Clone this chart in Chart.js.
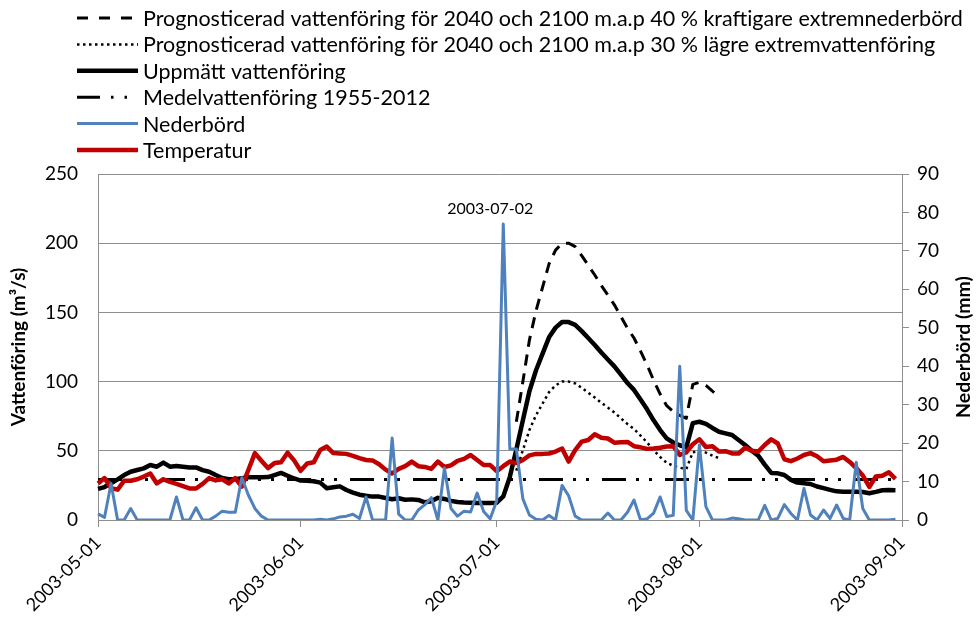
<!DOCTYPE html>
<html>
<head>
<meta charset="utf-8">
<script src="https://cdn.jsdelivr.net/npm/chart.js@4.4.0/dist/chart.umd.min.js"></script>
<style>
  html, body { margin: 0; padding: 0; background: #fff; }
  #wrap { position: relative; width: 978px; height: 628px; }
</style>
</head>
<body>
<div id="wrap"><canvas id="chartFlow"></canvas></div>
<script>
// x axis runs 2003-05-01 .. 2003-09-01, one category per day
const TICK_DATES = ['2003-05-01', '2003-06-01', '2003-07-01', '2003-08-01', '2003-09-01'];
const PROG_START = '2003-07-04';
const PEAK_LABEL = '2003-07-02';

const NEDERBORD = [
    1.6, 0.7, 9.5, 0, 0, 3, 0, 0, 0, 0,
    0, 0, 6, 0, 0, 3.2, 0, 0, 1, 2.3,
    2, 2, 11, 6.5, 3, 1, 0, 0, 0, 0,
    0, 0, 0, 0, 0.2, 0, 0.3, 0.8, 1, 1.5,
    0.4, 6, 0, 0, 0, 21.3, 1.5, 0, 0, 2.6,
    4, 5.8, 0, 13.5, 3, 1, 2.3, 2.1, 7, 2.2,
    0.3, 5, 77, 18.5, 18.5, 5.5, 1.3, 0.2, 0, 1.2,
    0, 9, 6.3, 1, 0, 0, 0, 0, 1.8, 0,
    0, 2, 5.2, 0, 0.3, 1.8, 6, 0.9, 1.2, 40,
    2.5, 0, 19.5, 3.5, 0, 0, 0, 0.5, 0.3, 0,
    0, 0, 3.8, 0, 0.4, 4, 1.7, 0, 8.2, 1.3,
    0, 2.6, 0.4, 3.9, 0.4, 0, 15, 3, 0, 0,
    0, 0, 0.2
];

const TEMPERATUR = [
    9.5, 10.9, 8.3, 7.9, 10.2, 10.2, 10.6, 11.3, 12.1, 9.5,
    10.6, 9.9, 9.4, 8.8, 8.2, 8.2, 9.4, 10.9, 10.3, 10.6,
    9.5, 10.9, 8.7, 13, 17.4, 15.4, 13.5, 14.8, 15, 17.5,
    15.5, 12.8, 14.7, 15, 18.2, 19.1, 17.4, 17.3, 17.2, 16.7,
    16.1, 15.6, 15.5, 14.5, 13.1, 12.1, 13.3, 14, 15.2, 14,
    13.8, 13.3, 15.2, 13.8, 14.2, 15.4, 15.9, 16.9, 15.6, 14.3,
    14.3, 12.7, 14, 15.2, 14.8, 15.6, 16.8, 17.2, 17.2, 17.3,
    17.8, 18.6, 15.2, 18.2, 20.4, 20.8, 22.3, 21.4, 21.2, 20.1,
    20.2, 20.3, 19.2, 18.9, 18.5, 18.6, 18.8, 19.1, 19.2, 16.9,
    17.6, 19.7, 21, 19, 19.2, 17.8, 17.9, 17.3, 17.3, 18.8,
    18, 17.8, 19.5, 21, 19.9, 15.8, 15.3, 16, 16.9, 17.4,
    16.6, 15.3, 15.5, 15.7, 16.4, 15.1, 13.5, 11.6, 8.6, 11.3,
    11.5, 12.4, 10.7
];

const UPPMATT = [
    22.5, 23.8, 26.5, 29.4, 32.5, 34.9, 36.1, 37.3, 39.7, 38.5,
    41.5, 38.5, 39, 38.5, 38, 38, 36, 34.9, 32.5, 30.3,
    29.4, 29.4, 30.1, 30.8, 30.8, 30.8, 31, 32.5, 34, 32,
    30, 28.5, 28.4, 28, 27, 23, 23.6, 24.3, 21.7, 19.8,
    18.3, 17.5, 16.9, 16.9, 15.9, 15, 15.7, 14.6, 14.9, 14.5,
    12.8, 13.5, 16, 15.2, 13.8, 13, 12.6, 12.4, 12.3, 12.3,
    12.3, 12.5, 17, 31, 51, 72, 93, 108, 120, 132,
    139, 143, 143, 141, 136.5, 131.5, 126.5, 121, 116, 111,
    105, 99, 94, 87, 80, 72, 65, 59, 56, 54,
    52.5, 70, 71, 69.5, 66.5, 63.8, 62.6, 61.4, 57.8, 54.2,
    50, 46.5, 40, 34, 33.7, 32.5, 29, 27, 26.5, 26,
    24.2, 23, 21.8, 20.7, 20.5, 20.5, 20.4, 20.2, 19.3, 20.3,
    21.5, 21.6, 21.5
];

const MEDEL = [
    29.3, 29.3, 29.3, 29.3, 29.3, 29.3, 29.3, 29.3, 29.3, 29.3,
    29.3, 29.3, 29.3, 29.3, 29.3, 29.3, 29.3, 29.3, 29.3, 29.3,
    29.3, 29.3, 29.3, 29.3, 29.3, 29.3, 29.3, 29.3, 29.3, 29.3,
    29.3, 29.3, 29.3, 29.3, 29.3, 29.3, 29.3, 29.3, 29.3, 29.3,
    29.3, 29.3, 29.3, 29.3, 29.3, 29.3, 29.3, 29.3, 29.3, 29.3,
    29.3, 29.3, 29.3, 29.3, 29.3, 29.3, 29.3, 29.3, 29.3, 29.3,
    29.3, 29.3, 29.3, 29.3, 29.3, 29.3, 29.3, 29.3, 29.3, 29.3,
    29.3, 29.3, 29.3, 29.3, 29.3, 29.3, 29.3, 29.3, 29.3, 29.3,
    29.3, 29.3, 29.3, 29.3, 29.3, 29.3, 29.3, 29.3, 29.3, 29.3,
    29.3, 29.3, 29.3, 29.3, 29.3, 29.3, 29.3, 29.3, 29.3, 29.3,
    29.3, 29.3, 29.3, 29.3, 29.3, 29.3, 29.3, 29.3, 29.3, 29.3,
    29.3, 29.3, 29.3, 29.3, 29.3, 29.3, 29.3, 29.3, 29.3, 29.3,
    29.3, 29.3, 29.3
];

// prognoses, from PROG_START onwards
const PROG_40 = [
    71, 100, 130, 151, 168, 185, 195, 200, 200, 197.5,
    191, 184, 177, 169.5, 162.5, 155.5, 147, 138.5, 131.5, 122,
    112, 101, 91, 82.6, 78.4, 75.6, 73.5, 98, 99.4, 97.3,
    93.1, 89.3
];
const PROG_30 = [
    35.7, 50.4, 65, 75.6, 84, 92.4, 97.3, 100, 100, 98.7,
    95.5, 92, 88.5, 84.7, 81.2, 77.7, 73.5, 69.3, 65.8, 61,
    56, 50.4, 45.5, 41.3, 39.2, 37.8, 36.8, 49, 49.7, 48.7,
    46.5, 44.7
];

const FONT = 'Lato, "Open Sans", sans-serif';
const GRID = '#8e8e8e';

const dates = [];
for (let i = 0; i < 124; i++) {
    dates.push(new Date(Date.UTC(2003, 4, 1 + i)).toISOString().slice(0, 10));
}

const fromIndex = (arr, startDate) => {
    const start = dates.indexOf(startDate);
    return dates.map((d, i) => {
        const k = i - start;
        return (k >= 0 && k < arr.length) ? arr[k] : null;
    });
};

const legendLines = {
    id: 'legendLines',
    afterDraw(chart) {
        const c = chart.ctx;
        c.save();
        chart.data.datasets.forEach((ds, i) => {
            const y = 18 + i * 26.4;
            c.beginPath();
            c.strokeStyle = ds.borderColor;
            c.lineWidth = ds.borderWidth;
            c.setLineDash(ds.legendDash || ds.borderDash || []);
            c.lineCap = 'butt';
            c.moveTo(77, y);
            c.lineTo(138, y);
            c.stroke();
            c.setLineDash([]);
            c.fillStyle = '#000';
            c.font = '21.5px ' + FONT;
            c.textBaseline = 'middle';
            c.textAlign = 'left';
            c.fillText(ds.label, 143, y + 1);
        });

        // right axis title, reads bottom to top like the left one
        const area = chart.chartArea;
        c.translate(964, (area.top + area.bottom) / 2);
        c.rotate(-Math.PI / 2);
        c.font = 'bold 19.5px ' + FONT;
        c.textAlign = 'center';
        c.fillText('Nederbörd (mm)', 0, 0);
        c.restore();

        // date label over the big rain peak
        const meta = chart.getDatasetMeta(4);
        const pt = meta.data[dates.indexOf(PEAK_LABEL)];
        c.save();
        c.font = '16px ' + FONT;
        c.fillStyle = '#000';
        c.textAlign = 'center';
        c.textBaseline = 'middle';
        c.fillText(PEAK_LABEL, pt.x - 13, pt.y - 15);
        c.restore();
    }
};

var ctx = document.getElementById('chartFlow').getContext('2d');

var chart = new Chart(ctx, {
    type: 'line',
    data: {
        labels: dates,
        datasets: [{
            label: 'Prognosticerad vattenföring för 2040 och 2100 m.a.p 40 % kraftigare extremnederbörd',
            data: fromIndex(PROG_40, PROG_START),
            borderColor: '#000',
            borderWidth: 3,
            borderDash: [11, 8],
            legendDash: [11, 11],
            yAxisID: 'y',
            order: 3
        },
        {
            label: 'Prognosticerad vattenföring för 2040 och 2100 m.a.p 30 % lägre extremvattenföring',
            data: fromIndex(PROG_30, PROG_START),
            borderColor: '#000',
            borderWidth: 2.5,
            borderDash: [2.5, 3.5],
            yAxisID: 'y',
            order: 4
        },
        {
            label: 'Uppmätt vattenföring',
            data: UPPMATT,
            borderColor: '#000',
            borderWidth: 4.5,
            yAxisID: 'y',
            order: 2
        },
        {
            label: 'Medelvattenföring 1955-2012',
            data: MEDEL,
            borderColor: '#000',
            borderWidth: 3,
            borderDash: [24, 10, 3, 10, 3, 13],
            legendDash: [23, 11, 2.5, 11, 2.5, 11],
            yAxisID: 'y',
            order: 5
        },
        {
            label: 'Nederbörd',
            data: NEDERBORD,
            borderColor: '#4f81bd',
            borderWidth: 3,
            yAxisID: 'y1',
            order: 0
        },
        {
            label: 'Temperatur',
            data: TEMPERATUR,
            borderColor: '#c00000',
            borderWidth: 4.5,
            yAxisID: 'y1',
            order: 1
        }]
    },
    options: {
        responsive: true,
        maintainAspectRatio: false,
        animation: false,
        layout: { padding: { top: 174, left: 0, right: 0, bottom: 0 } },
        elements: {
            point: { radius: 0 },
            line: { tension: 0, borderJoinStyle: 'round', borderCapStyle: 'butt' }
        },
        plugins: {
            legend: { display: false },
            tooltip: { enabled: false }
        },
        scales: {
            x: {
                type: 'category',
                offset: false,
                grid: {
                    drawOnChartArea: false,
                    drawTicks: true,
                    tickLength: 7,
                    color: (c) => TICK_DATES.includes(dates[c.index]) ? GRID : 'rgba(0,0,0,0)'
                },
                border: { color: GRID },
                ticks: {
                    autoSkip: false,
                    minRotation: 45,
                    maxRotation: 45,
                    padding: 5,
                    color: '#000',
                    font: { family: FONT, size: 18 },
                    callback: function (value, index) {
                        return TICK_DATES.includes(dates[index]) ? dates[index] : '';
                    }
                },
                afterFit: (scale) => { scale.height = 108; }
            },
            y: {
                position: 'left',
                min: 0,
                max: 250,
                ticks: {
                    stepSize: 50,
                    padding: 20,
                    color: '#000',
                    font: { family: FONT, size: 19 }
                },
                grid: { color: GRID, drawTicks: false },
                border: { color: GRID },
                title: {
                    display: true,
                    text: 'Vattenföring (m³/s)',
                    color: '#000',
                    padding: { top: 7, bottom: 0 },
                    font: { family: FONT, size: 19, weight: 'bold' }
                },
                afterFit: (scale) => { scale.width = 98; }
            },
            y1: {
                position: 'right',
                min: 0,
                max: 90,
                ticks: {
                    stepSize: 10,
                    padding: 8,
                    color: '#000',
                    font: { family: FONT, size: 19 }
                },
                grid: { drawOnChartArea: false, color: GRID, tickLength: 7 },
                border: { color: GRID },
                afterFit: (scale) => { scale.width = 76; }
            }
        }
    },
    plugins: [legendLines]
});
</script>
</body>
</html>
